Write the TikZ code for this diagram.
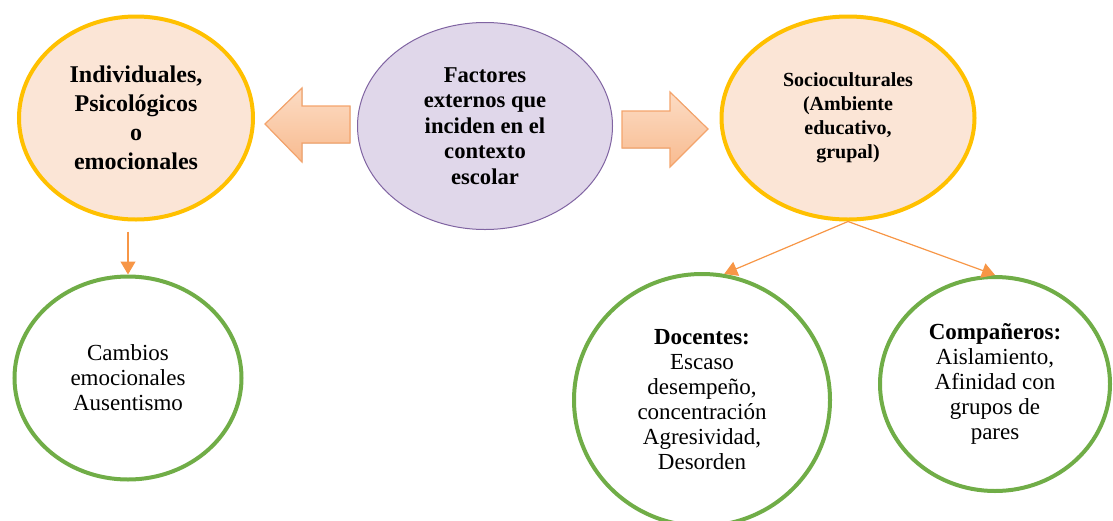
\documentclass[tikz,border=0pt]{standalone}
\usepackage{fontspec}
\setmainfont{Liberation Serif}
\usepackage{tikz}
\usetikzlibrary{shapes.geometric,arrows.meta}

\definecolor{oro}{HTML}{FFC000}
\definecolor{melocoton}{HTML}{FBE5D6}
\definecolor{lila}{HTML}{E0D7EA}
\definecolor{morado}{HTML}{8064A2}
\definecolor{verde}{HTML}{70AD47}
\definecolor{naranja}{HTML}{F79646}
\definecolor{bordeflecha}{HTML}{F4A46C}
\definecolor{flechaclara}{HTML}{FCDCC4}
\definecolor{flechaoscura}{HTML}{F8BB90}

\begin{document}
\begin{tikzpicture}[x=0.5pt, y=-0.5pt,
    amarillo/.style={ellipse, draw=oro, line width=2pt, fill=melocoton,
        inner sep=0pt, align=center, font=\bfseries},
    violeta/.style={ellipse, draw=morado, line width=0.5pt, fill=lila,
        inner sep=0pt, align=center, font=\bfseries\fontsize{11.3}{12.75}\selectfont},
    circulo/.style={ellipse, draw=verde, line width=2pt, fill=white,
        inner sep=0pt, align=center, font=\fontsize{11.5}{12.5}\selectfont},
    flecha/.style={draw=bordeflecha, line width=0.6pt, top color=flechaclara, bottom color=flechaoscura},
    conector/.style={draw=naranja, line width=0.6pt, -{Triangle[width=7.5pt,length=6.5pt]}}]
    \useasboundingbox (0,0) rectangle (1113,520);
    \clip (0,0) rectangle (1113,520);

    % nodos principales
    \node[violeta, minimum width=127.5pt, minimum height=103.5pt] (factores) at (485,126)
        {Factores\\externos que\\inciden en el\\contexto\\escolar};
    \node[amarillo, minimum width=117pt, minimum height=101.5pt,
        font=\bfseries\fontsize{12}{14.5}\selectfont] (individuales) at (136,118)
        {Individuales,\\Psicológicos\\o\\emocionales};
    \node[amarillo, minimum width=126.5pt, minimum height=101.5pt,
        font=\bfseries\fontsize{10}{12}\selectfont] (socioculturales) at (848,118)
        {Socioculturales\\(Ambiente\\educativo,\\grupal)};

    % flechas de bloque
    \filldraw[flecha] (350,106) -- (302,106) -- (302,88) -- (265,124)
        -- (302,162) -- (302,143) -- (350,143) -- cycle;
    \filldraw[flecha] (622,111) -- (670,111) -- (670,92) -- (708,129)
        -- (670,167) -- (670,148) -- (622,148) -- cycle;

    % nodos inferiores
    \node[circulo, minimum width=113.5pt, minimum height=101.5pt] (cambios) at (128,378)
        {Cambios\\emocionales\\Ausentismo};
    \node[circulo, minimum width=128pt, minimum height=126pt] (docentes) at (702,400)
        {\textbf{Docentes:}\\Escaso\\desempeño,\\concentración\\Agresividad,\\Desorden};
    \node[circulo, minimum width=115pt, minimum height=107pt] (companeros) at (995,384)
        {\textbf{Compañeros:}\\Aislamiento,\\Afinidad con\\grupos de\\pares};

    \draw[conector, shorten <=5pt] (cambios.north |- individuales.south) -- (cambios.north);
    \draw[conector] (socioculturales.south) -- (docentes.80);
    \draw[conector] (socioculturales.south) -- (companeros.north);
\end{tikzpicture}
\end{document}
